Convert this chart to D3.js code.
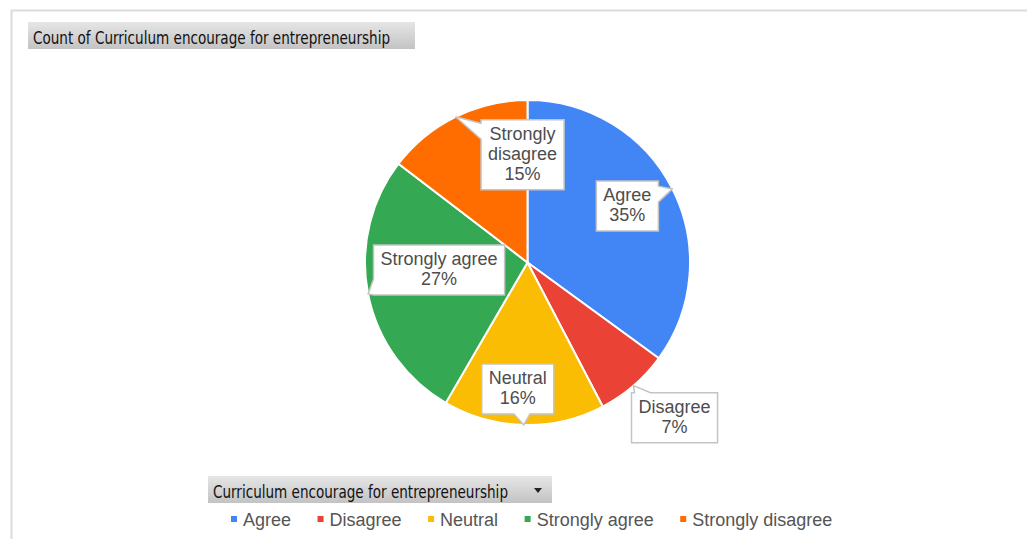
<!DOCTYPE html>
<html>
<head>
<meta charset="utf-8">
<script src="https://cdn.jsdelivr.net/npm/d3@7"></script>
<style>
  body { margin: 0; background: #fff; }
  svg { display: block; }
</style>
</head>
<body>
<svg id="canvas" width="1027" height="539"></svg>
<script>
const categories = ["Agree", "Disagree", "Neutral", "Strongly agree", "Strongly disagree"];
// counts (labels read 35%, 7%, 16%, 27%, 15%)
const counts = [48, 10, 22, 37, 20];
const colors = ["#4285F4", "#EA4335", "#FBBC04", "#34A853", "#FF6D01"];
const chartTitle = "Count of Curriculum encourage for entrepreneurship";
const fieldName = "Curriculum encourage for entrepreneurship";

// where each callout box sits relative to the point on the rim it points at
const labelNudge = [[-45, 17], [41, 32], [-6, -36], [71, -24], [67, 38]];

const svg = d3.select("#canvas");
const W = 1027, H = 539;
const cx = 527.5, cy = 262.5, radius = 162.5;

// frame of the sheet
svg.append("line").attr("x1", 11).attr("x2", W).attr("y1", 10.5).attr("y2", 10.5)
  .attr("stroke", "#dcdcdc").attr("stroke-width", 2);
svg.append("line").attr("x1", 11.5).attr("x2", 11.5).attr("y1", 10).attr("y2", H)
  .attr("stroke", "#dcdcdc").attr("stroke-width", 2);

// grey pivot buttons
const defs = svg.append("defs");
const grad = defs.append("linearGradient").attr("id", "btn").attr("x1", 0).attr("x2", 0).attr("y1", 0).attr("y2", 1);
grad.append("stop").attr("offset", "0%").attr("stop-color", "#e6e6e6");
grad.append("stop").attr("offset", "100%").attr("stop-color", "#c3c3c3");

function button(x, y, w, h, text, textW) {
  const g = svg.append("g");
  g.append("rect").attr("x", x).attr("y", y).attr("width", w).attr("height", h)
    .attr("fill", "url(#btn)");
  g.append("text").attr("x", x + 5).attr("y", y + 21.5)
    .attr("font-family", "Liberation Sans Narrow, DejaVu Sans Condensed, sans-serif")
    .attr("font-size", 18).attr("fill", "#111")
    .attr("textLength", textW).attr("lengthAdjust", "spacingAndGlyphs")
    .text(text);
  return g;
}

button(28, 22, 387, 27, chartTitle, 357);
const fb = button(208, 476, 344, 27, fieldName, 295);
fb.append("path").attr("d", "M534,488 L542,488 L538,493 Z").attr("fill", "#222");

// pie
const total = d3.sum(counts);
const pct = d3.format(".0%");
const pie = d3.pie().sort(null).value(d => d);
const arcs = pie(counts);
const arc = d3.arc().innerRadius(0).outerRadius(radius);

const gPie = svg.append("g").attr("transform", `translate(${cx},${cy})`);
gPie.selectAll("path.slice")
  .data(arcs)
  .join("path")
  .attr("class", "slice")
  .attr("d", arc)
  .attr("fill", (d, i) => colors[i])
  .attr("stroke", "#fff")
  .attr("stroke-width", 2);

// callouts
const fontSize = 18, lineH = 20, padX = 7, padY = 5, tail = 8;
const gLab = svg.append("g")
  .attr("font-family", "Liberation Sans, Arial, sans-serif")
  .attr("font-size", fontSize);

const measure = gLab.append("text").attr("visibility", "hidden");
function textW(s) { measure.text(s); return measure.node().getComputedTextLength(); }

arcs.forEach((d, i) => {
  const mid = (d.startAngle + d.endAngle) / 2;
  const ax = cx + radius * Math.sin(mid);
  const ay = cy - radius * Math.cos(mid);

  let lines = [categories[i]];
  if (textW(categories[i]) > 125) lines = categories[i].split(" ");
  lines.push(pct(counts[i] / total));

  const w = d3.max(lines, textW) + padX * 2;
  const h = lines.length * lineH + padY * 2;
  const bx = ax + labelNudge[i][0], by = ay + labelNudge[i][1];
  const x0 = bx - w / 2, x1 = bx + w / 2, y0 = by - h / 2, y1 = by + h / 2;

  // which edge faces the anchor
  const dx = ax - bx, dy = ay - by;
  const tx = Math.abs(dx) > 0 ? (w / 2) / Math.abs(dx) : Infinity;
  const ty = Math.abs(dy) > 0 ? (h / 2) / Math.abs(dy) : Infinity;
  let edge, t = Math.min(tx, ty);
  if (tx < ty) edge = dx > 0 ? "right" : "left";
  else edge = dy > 0 ? "bottom" : "top";
  const px = bx + dx * t, py = by + dy * t;

  const clampX = v => Math.max(x0, Math.min(x1 - 2 * tail, v - tail));
  const clampY = v => Math.max(y0, Math.min(y1 - 2 * tail, v - tail));
  let pts;
  if (edge === "top") {
    const s = clampX(px);
    pts = [[x0, y0], [s, y0], [ax, ay], [s + 2 * tail, y0], [x1, y0], [x1, y1], [x0, y1]];
  } else if (edge === "right") {
    const s = clampY(py);
    pts = [[x0, y0], [x1, y0], [x1, s], [ax, ay], [x1, s + 2 * tail], [x1, y1], [x0, y1]];
  } else if (edge === "bottom") {
    const s = clampX(px);
    pts = [[x0, y0], [x1, y0], [x1, y1], [s + 2 * tail, y1], [ax, ay], [s, y1], [x0, y1]];
  } else {
    const s = clampY(py);
    pts = [[x0, y0], [x1, y0], [x1, y1], [x0, y1], [x0, s + 2 * tail], [ax, ay], [x0, s]];
  }

  gLab.append("path")
    .attr("d", d3.line()(pts) + "Z")
    .attr("fill", "#fff")
    .attr("stroke", "#c4c4c4")
    .attr("stroke-width", 1.5)
    .attr("stroke-linejoin", "miter");

  lines.forEach((s, k) => {
    gLab.append("text")
      .attr("x", bx)
      .attr("y", y0 + padY + lineH * k + 15)
      .attr("text-anchor", "middle")
      .attr("fill", "#4d4d4d")
      .text(s);
  });
});

// legend
const gLeg = svg.append("g")
  .attr("font-family", "Liberation Sans, Arial, sans-serif")
  .attr("font-size", 18);
let lx = 231;
categories.forEach((c, i) => {
  gLeg.append("rect").attr("x", lx).attr("y", 516).attr("width", 6).attr("height", 6)
    .attr("fill", colors[i]);
  const t = gLeg.append("text").attr("x", lx + 12).attr("y", 525.5)
    .attr("fill", "#555").text(c);
  lx += 12 + t.node().getComputedTextLength() + 26.5;
});
</script>
</body>
</html>
